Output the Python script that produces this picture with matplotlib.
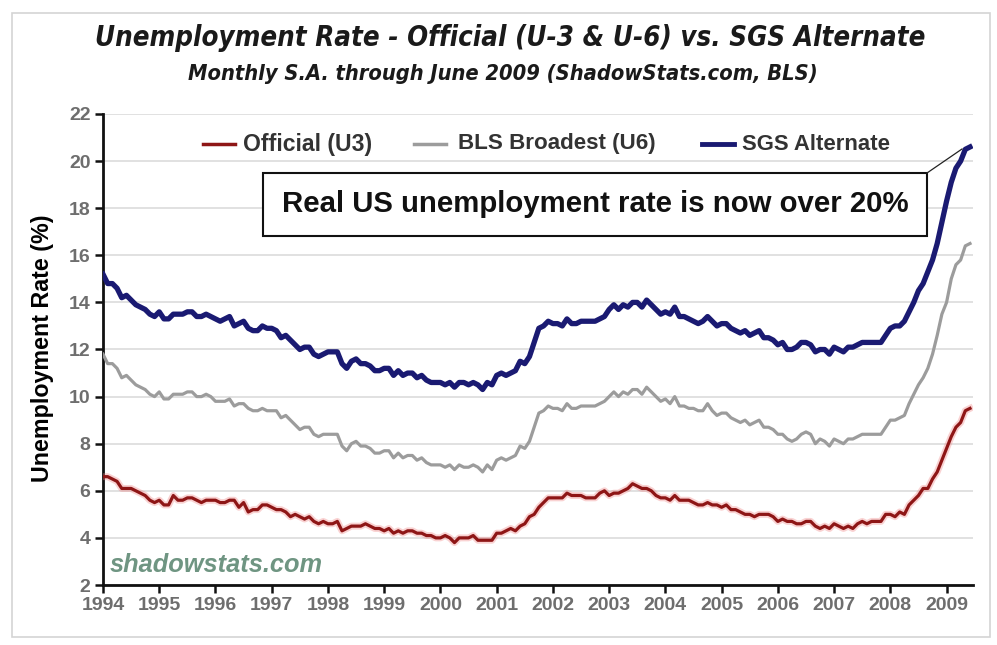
import numpy as np
import matplotlib
matplotlib.use("Agg")
import matplotlib.pyplot as plt
from matplotlib import font_manager
from matplotlib.patches import Rectangle
from matplotlib.lines import Line2D

# ============================================================
# DADOS (mensais, jan/1994 a jun/2009)
# ============================================================

START_YEAR = 1994

U3 = [
    6.6, 6.6, 6.5, 6.4, 6.1, 6.1, 6.1, 6.0, 5.9, 5.8, 5.6, 5.5,   # 1994
    5.6, 5.4, 5.4, 5.8, 5.6, 5.6, 5.7, 5.7, 5.6, 5.5, 5.6, 5.6,   # 1995
    5.6, 5.5, 5.5, 5.6, 5.6, 5.3, 5.5, 5.1, 5.2, 5.2, 5.4, 5.4,   # 1996
    5.3, 5.2, 5.2, 5.1, 4.9, 5.0, 4.9, 4.8, 4.9, 4.7, 4.6, 4.7,   # 1997
    4.6, 4.6, 4.7, 4.3, 4.4, 4.5, 4.5, 4.5, 4.6, 4.5, 4.4, 4.4,   # 1998
    4.3, 4.4, 4.2, 4.3, 4.2, 4.3, 4.3, 4.2, 4.2, 4.1, 4.1, 4.0,   # 1999
    4.0, 4.1, 4.0, 3.8, 4.0, 4.0, 4.0, 4.1, 3.9, 3.9, 3.9, 3.9,   # 2000
    4.2, 4.2, 4.3, 4.4, 4.3, 4.5, 4.6, 4.9, 5.0, 5.3, 5.5, 5.7,   # 2001
    5.7, 5.7, 5.7, 5.9, 5.8, 5.8, 5.8, 5.7, 5.7, 5.7, 5.9, 6.0,   # 2002
    5.8, 5.9, 5.9, 6.0, 6.1, 6.3, 6.2, 6.1, 6.1, 6.0, 5.8, 5.7,   # 2003
    5.7, 5.6, 5.8, 5.6, 5.6, 5.6, 5.5, 5.4, 5.4, 5.5, 5.4, 5.4,   # 2004
    5.3, 5.4, 5.2, 5.2, 5.1, 5.0, 5.0, 4.9, 5.0, 5.0, 5.0, 4.9,   # 2005
    4.7, 4.8, 4.7, 4.7, 4.6, 4.6, 4.7, 4.7, 4.5, 4.4, 4.5, 4.4,   # 2006
    4.6, 4.5, 4.4, 4.5, 4.4, 4.6, 4.7, 4.6, 4.7, 4.7, 4.7, 5.0,   # 2007
    5.0, 4.9, 5.1, 5.0, 5.4, 5.6, 5.8, 6.1, 6.1, 6.5, 6.8, 7.3,   # 2008
    7.8, 8.3, 8.7, 8.9, 9.4, 9.5,                                 # 2009
]

U6 = [
    11.8, 11.4, 11.4, 11.2, 10.8, 10.9, 10.7, 10.5, 10.4, 10.3, 10.1, 10.0,
    10.2, 9.9, 9.9, 10.1, 10.1, 10.1, 10.2, 10.2, 10.0, 10.0, 10.1, 10.0,
    9.8, 9.8, 9.8, 9.9, 9.6, 9.7, 9.7, 9.5, 9.4, 9.4, 9.5, 9.4,
    9.4, 9.4, 9.1, 9.2, 9.0, 8.8, 8.6, 8.7, 8.7, 8.4, 8.3, 8.4,
    8.4, 8.4, 8.4, 7.9, 7.7, 8.0, 8.1, 7.9, 7.9, 7.8, 7.6, 7.6,
    7.7, 7.7, 7.4, 7.6, 7.4, 7.5, 7.5, 7.3, 7.4, 7.2, 7.1, 7.1,
    7.1, 7.0, 7.1, 6.9, 7.1, 7.0, 7.0, 7.1, 7.0, 6.8, 7.1, 6.9,
    7.3, 7.4, 7.3, 7.4, 7.5, 7.9, 7.8, 8.1, 8.7, 9.3, 9.4, 9.6,
    9.5, 9.5, 9.4, 9.7, 9.5, 9.5, 9.6, 9.6, 9.6, 9.6, 9.7, 9.8,
    10.0, 10.2, 10.0, 10.2, 10.1, 10.3, 10.3, 10.1, 10.4, 10.2, 10.0, 9.8,
    9.9, 9.7, 10.0, 9.6, 9.6, 9.5, 9.5, 9.4, 9.4, 9.7, 9.4, 9.2,
    9.3, 9.3, 9.1, 9.0, 8.9, 9.0, 8.8, 8.9, 9.0, 8.7, 8.7, 8.6,
    8.4, 8.4, 8.2, 8.1, 8.2, 8.4, 8.5, 8.4, 8.0, 8.2, 8.1, 7.9,
    8.2, 8.1, 8.0, 8.2, 8.2, 8.3, 8.4, 8.4, 8.4, 8.4, 8.4, 8.7,
    9.0, 9.0, 9.1, 9.2, 9.7, 10.1, 10.5, 10.8, 11.2, 11.8, 12.6, 13.5,
    14.0, 15.0, 15.6, 15.8, 16.4, 16.5,
]

SGS = [
    15.2, 14.8, 14.8, 14.6, 14.2, 14.3, 14.1, 13.9, 13.8, 13.7, 13.5, 13.4,
    13.6, 13.3, 13.3, 13.5, 13.5, 13.5, 13.6, 13.6, 13.4, 13.4, 13.5, 13.4,
    13.3, 13.2, 13.3, 13.4, 13.0, 13.1, 13.2, 12.9, 12.8, 12.8, 13.0, 12.9,
    12.9, 12.8, 12.5, 12.6, 12.4, 12.2, 12.0, 12.1, 12.1, 11.8, 11.7, 11.8,
    11.9, 11.9, 11.9, 11.4, 11.2, 11.5, 11.6, 11.4, 11.4, 11.3, 11.1, 11.1,
    11.2, 11.2, 10.9, 11.1, 10.9, 11.0, 11.0, 10.8, 10.9, 10.7, 10.6, 10.6,
    10.6, 10.5, 10.6, 10.4, 10.6, 10.6, 10.5, 10.6, 10.5, 10.3, 10.6, 10.5,
    10.9, 11.0, 10.9, 11.0, 11.1, 11.5, 11.4, 11.7, 12.3, 12.9, 13.0, 13.2,
    13.1, 13.1, 13.0, 13.3, 13.1, 13.1, 13.2, 13.2, 13.2, 13.2, 13.3, 13.4,
    13.7, 13.9, 13.7, 13.9, 13.8, 14.0, 14.0, 13.8, 14.1, 13.9, 13.7, 13.5,
    13.6, 13.5, 13.8, 13.4, 13.4, 13.3, 13.2, 13.1, 13.2, 13.4, 13.2, 13.0,
    13.1, 13.1, 12.9, 12.8, 12.7, 12.8, 12.6, 12.7, 12.8, 12.5, 12.5, 12.4,
    12.2, 12.3, 12.0, 12.0, 12.1, 12.3, 12.3, 12.2, 11.9, 12.0, 12.0, 11.8,
    12.1, 12.0, 11.9, 12.1, 12.1, 12.2, 12.3, 12.3, 12.3, 12.3, 12.3, 12.6,
    12.9, 13.0, 13.0, 13.2, 13.6, 14.0, 14.5, 14.8, 15.3, 15.8, 16.5, 17.4,
    18.3, 19.1, 19.7, 20.0, 20.5, 20.6,
]

YEARS = list(range(1994, 2010))
Y_TICKS = [2, 4, 6, 8, 10, 12, 14, 16, 18, 20, 22]

TITLE = "Unemployment Rate - Official (U-3 & U-6) vs. SGS Alternate"
SUBTITLE = "Monthly S.A. through June 2009 (ShadowStats.com, BLS)"
CALLOUT = "Real US unemployment rate is now over 20%"

# ============================================================
# ESTILO
# ============================================================

W, H = 997, 645
DPI = 100

NAVY = "#1a1a72"
GREY = "#9c9c9c"
RED = "#8e1616"
TICK_GREY = "#6e6e6e"

plt.rcParams["font.family"] = ["Liberation Sans", "DejaVu Sans"]

# fonte estreita para os titulos (se existir)
names = {f.name for f in font_manager.fontManager.ttflist}
if "Liberation Sans Narrow" in names:
    NARROW = dict(family=["Liberation Sans Narrow", "DejaVu Sans"])
else:
    condensed = [f for f in font_manager.fontManager.ttflist
                 if f.name == "DejaVu Sans" and "ondensed" in f.fname]
    if condensed:
        NARROW = dict(family=["DejaVu Sans"], stretch="condensed")
    else:
        NARROW = dict(family=["Liberation Sans", "DejaVu Sans"])


def px(x, y):
    """pixel (origem no topo) -> fração da figura"""
    return x / W, 1 - y / H


fig = plt.figure(figsize=(W / DPI, H / DPI), dpi=DPI)
renderer = fig.canvas.get_renderer()


def fit_width(txt, target_px):
    """Ajusta o tamanho da fonte para o texto ocupar target_px de largura"""
    for _ in range(3):
        w = txt.get_window_extent(renderer=renderer).width
        if w > 0:
            txt.set_fontsize(txt.get_fontsize() * target_px / w)


# moldura clara em volta
x0, y0 = px(12, 637)
x1, y1 = px(990, 13)
fig.patches.append(Rectangle((x0, y0), x1 - x0, y1 - y0, transform=fig.transFigure,
                             fill=False, edgecolor="#d4d4d4", linewidth=1.2))

left, bottom = px(103, 585)
_, top = px(0, 114)
right, _ = px(973, 0)
ax = fig.add_axes([left, bottom, right - left, top - bottom])

x = START_YEAR + np.arange(len(U3)) / 12.0

ax.plot(x, U6, color=GREY, linewidth=2.3, solid_joinstyle="round", zorder=3)
ax.plot(x, U3, color="#f08080", linewidth=5, alpha=0.35, zorder=3)
ax.plot(x, U3, color=RED, linewidth=2.3, solid_joinstyle="round", zorder=4)
ax.plot(x, SGS, color=NAVY, linewidth=3.8, solid_joinstyle="round", zorder=5)

ax.set_xlim(1994, 2009.47)
ax.set_ylim(2, 22)
ax.set_yticks(Y_TICKS)
ax.set_xticks(YEARS)
ax.set_xticklabels([str(y) for y in YEARS])

ax.grid(axis="y", color="#d9d9d9", linewidth=1.1)
ax.set_axisbelow(True)

for s in ("top", "right"):
    ax.spines[s].set_visible(False)
for s in ("left", "bottom"):
    ax.spines[s].set_linewidth(2)
    ax.spines[s].set_color("#111111")

ax.tick_params(axis="both", direction="out", length=6, width=1.8, color="#111111",
               labelsize=14, labelcolor=TICK_GREY, pad=3)
for lab in ax.get_xticklabels() + ax.get_yticklabels():
    lab.set_fontweight("bold")

ylab = fig.text(42 / W, 1 - 348 / H, "Unemployment Rate (%)", rotation=90,
                ha="center", va="center", fontsize=14, fontweight="bold")
fit_width_target = 266

# titulos
t1 = fig.text(0.512, 1 - 38 / H, TITLE, ha="center", va="center", fontsize=21,
              fontweight="bold", style="italic", color="#1a1a1a", **NARROW)
fit_width(t1, 831)
t2 = fig.text(0.504, 1 - 74 / H, SUBTITLE, ha="center", va="center", fontsize=15,
              fontweight="bold", style="italic", color="#1a1a1a", **NARROW)
fit_width(t2, 630)

# legenda manual
legend_items = [
    (203, 235, 243, 372, "Official (U3)", RED, 2.5),
    (414, 446, 458, 655, "BLS Broadest (U6)", GREY, 2.5),
    (702, 734, 742, 890, "SGS Alternate", NAVY, 3.5),
]
for lx0, lx1, tx0, tx1, label, color, lw in legend_items:
    a, yy = px(lx0, 144)
    b, _ = px(lx1, 144)
    fig.add_artist(Line2D([a, b], [yy, yy], transform=fig.transFigure,
                          color=color, linewidth=lw))
    t = fig.text(tx0 / W, yy, label, ha="left", va="center", fontsize=14,
                 fontweight="bold", color="#333333")
    fit_width(t, tx1 - tx0)

# caixa de destaque
bx0, by0 = px(263, 236)
bx1, by1 = px(927, 173)
fig.patches.append(Rectangle((bx0, by0), bx1 - bx0, by1 - by0, transform=fig.transFigure,
                             facecolor="white", edgecolor="#111111", linewidth=1.5, zorder=6))
tc = fig.text((bx0 + bx1) / 2, (by0 + by1) / 2, CALLOUT, ha="center", va="center",
              fontsize=20, fontweight="bold", color="#111111", zorder=7)
fit_width(tc, 627)
cx0, cy0 = px(927, 173)
cx1, cy1 = px(962, 149)
fig.add_artist(Line2D([cx0, cx1], [cy0, cy1], transform=fig.transFigure,
                      color="#222222", linewidth=0.9, zorder=7))

# marca d'agua
wm = fig.text(110 / W, 1 - 565 / H, "shadowstats.com", ha="left", va="center",
              fontsize=18, fontweight="bold", style="italic", color="#6f9582")
fit_width(wm, 213)

# rótulo do eixo y: ajusta pela altura
for _ in range(3):
    h = ylab.get_window_extent(renderer=renderer).height
    ylab.set_fontsize(ylab.get_fontsize() * fit_width_target / h)

fig.savefig("out.png", dpi=DPI)
